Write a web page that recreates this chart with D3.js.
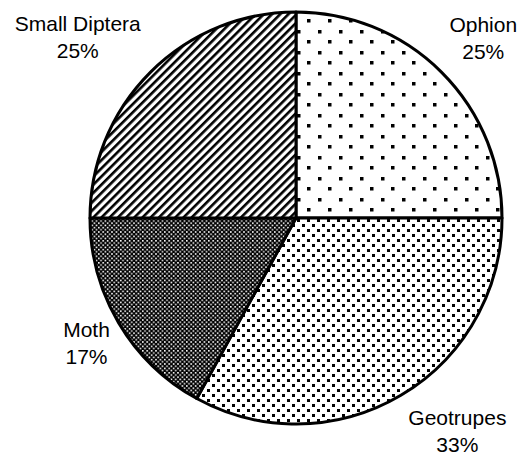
<!DOCTYPE html>
<html>
<head>
<meta charset="utf-8">
<script src="https://cdn.jsdelivr.net/npm/d3@7"></script>
<style>
  body { margin: 0; background: #fff; }
  svg { display: block; }
  text { font-family: "Liberation Sans", Arial, sans-serif; font-size: 21px; fill: #000; }
</style>
</head>
<body>
<svg id="chart" width="526" height="462"></svg>
<script>
// data (percent of prey)
var categories = ['Ophion', 'Geotrupes', 'Moth', 'Small Diptera'];
var values = [25, 33, 17, 25];
var pctLabels = ['25%', '33%', '17%', '25%'];
var fills = ['url(#sparseDots)', 'url(#denseDots)', 'url(#crossHatch)', 'url(#diagLines)'];

// label nudges (layout only)
var nudgeX = [2, 28, 16, -33];
var nudgeY = [5, -13, -8, 4];

var width = 526, height = 462;
var cx = 296, cy = 218, radius = 206, labelR = 262;

var svg = d3.select('#chart');
var defs = svg.append('defs');

// sparse dots
var p1 = defs.append('pattern')
  .attr('id', 'sparseDots')
  .attr('patternUnits', 'userSpaceOnUse')
  .attr('width', 21).attr('height', 21);
p1.append('rect').attr('width', 21).attr('height', 21).attr('fill', '#fff');
p1.append('rect').attr('x', 1).attr('y', 1).attr('width', 3.5).attr('height', 3.5).attr('fill', '#000');
p1.append('rect').attr('x', 11).attr('y', 11).attr('width', 3.5).attr('height', 3.5).attr('fill', '#000');

// dense dots
var p2 = defs.append('pattern')
  .attr('id', 'denseDots')
  .attr('patternUnits', 'userSpaceOnUse')
  .attr('width', 10).attr('height', 10);
p2.append('rect').attr('width', 10).attr('height', 10).attr('fill', '#fff');
p2.append('rect').attr('x', 1).attr('y', 1).attr('width', 3).attr('height', 3).attr('fill', '#000');
p2.append('rect').attr('x', 6).attr('y', 6).attr('width', 3).attr('height', 3).attr('fill', '#000');

// dark cross hatch (black with small white squares)
var p3 = defs.append('pattern')
  .attr('id', 'crossHatch')
  .attr('patternUnits', 'userSpaceOnUse')
  .attr('width', 4.4).attr('height', 4.4);
p3.append('rect').attr('width', 4.4).attr('height', 4.4).attr('fill', '#000');
p3.append('rect').attr('x', 0).attr('y', 0).attr('width', 1.6).attr('height', 1.6).attr('fill', '#fff');
p3.append('rect').attr('x', 2.2).attr('y', 2.2).attr('width', 1.6).attr('height', 1.6).attr('fill', '#fff');

// diagonal lines
var p4 = defs.append('pattern')
  .attr('id', 'diagLines')
  .attr('patternUnits', 'userSpaceOnUse')
  .attr('width', 5.8).attr('height', 5.8)
  .attr('patternTransform', 'rotate(45)');
p4.append('rect').attr('width', 5.8).attr('height', 5.8).attr('fill', '#fff');
p4.append('rect').attr('x', 0).attr('y', 0).attr('width', 2.6).attr('height', 5.8).attr('fill', '#000');

var pie = d3.pie().sort(null).value(function(d) { return d; });
var arcs = pie(values);

var arc = d3.arc().innerRadius(0).outerRadius(radius);
var labelArc = d3.arc().innerRadius(labelR).outerRadius(labelR);

var g = svg.append('g')
  .attr('transform', 'translate(' + cx + ',' + cy + ')');

g.selectAll('path')
  .data(arcs)
  .enter()
  .append('path')
    .attr('d', arc)
    .attr('fill', function(d, i) { return fills[i]; })
    .attr('stroke', '#000')
    .attr('stroke-width', 3)
    .attr('stroke-linejoin', 'round');

var labels = g.selectAll('.lbl')
  .data(arcs)
  .enter()
  .append('text')
    .attr('class', 'lbl')
    .attr('text-anchor', 'middle')
    .attr('transform', function(d, i) {
      var c = labelArc.centroid(d);
      return 'translate(' + (c[0] + nudgeX[i]) + ',' + (c[1] + nudgeY[i]) + ')';
    });

labels.append('tspan')
  .attr('x', 0).attr('y', -6)
  .text(function(d, i) { return categories[i]; });

labels.append('tspan')
  .attr('x', 0).attr('y', 21)
  .text(function(d, i) { return pctLabels[i]; });
</script>
</body>
</html>
